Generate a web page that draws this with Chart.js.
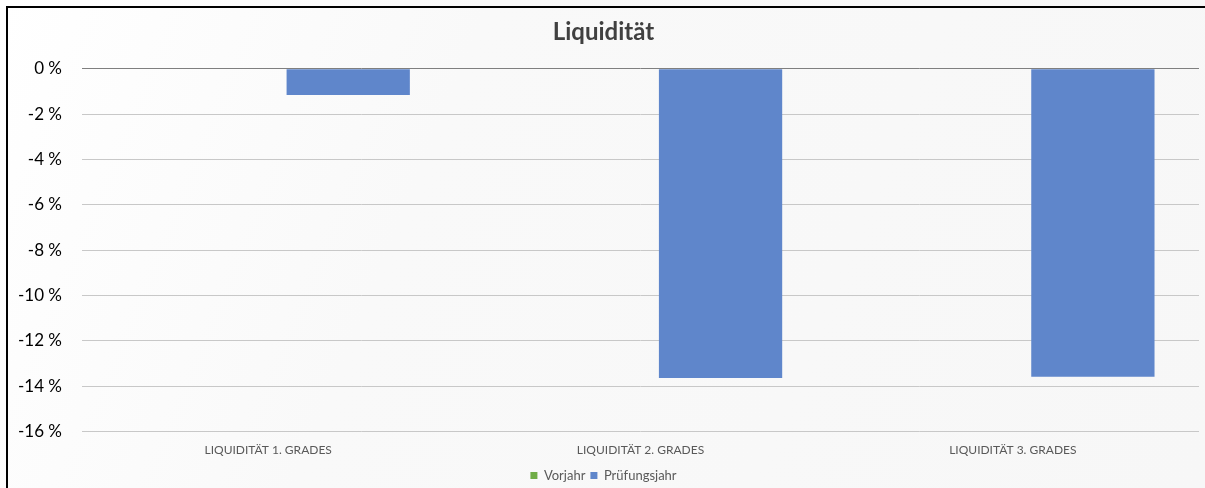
<!DOCTYPE html>
<html>
<head>
<meta charset="utf-8">
<script src="https://cdn.jsdelivr.net/npm/chart.js@4"></script>
<style>
  html, body { margin: 0; padding: 0; background: #ffffff; }
  #wrap { width: 1205px; height: 488px; position: relative; }
</style>
</head>
<body>
<div id="wrap"><canvas id="liqChart"></canvas></div>
<script>
// chart data
const categories = ['LIQUIDITÄT 1. GRADES', 'LIQUIDITÄT 2. GRADES', 'LIQUIDITÄT 3. GRADES'];
const vorjahr = [0, 0, 0];
const pruefungsjahr = [-1.15, -13.64, -13.58];
const yTicks = [0, -2, -4, -6, -8, -10, -12, -14, -16];

const FONT = 'Lato, "Open Sans", sans-serif';

// background + frame like the exported Excel chart
const frame = {
    id: 'frame',
    afterLayout(chart) {
        // push the legend a bit lower, closer to the bottom edge
        if (chart.legend) {
            chart.legend.top += 4;
            chart.legend.bottom += 4;
        }
    },
    beforeDraw(chart) {
        const ctx = chart.ctx;
        const w = chart.width, h = chart.height;
        ctx.save();
        const g = ctx.createLinearGradient(0, 0, w, h);
        g.addColorStop(0, '#ffffff');
        g.addColorStop(0.35, '#f9f9f9');
        g.addColorStop(1, '#f7f7f7');
        ctx.fillStyle = g;
        ctx.fillRect(0, 0, w, h);
        ctx.strokeStyle = '#000000';
        ctx.lineWidth = 2;
        ctx.beginPath();
        ctx.moveTo(7, h);
        ctx.lineTo(7, 7);
        ctx.lineTo(w, 7);
        ctx.stroke();
        ctx.restore();
    }
};

new Chart(document.getElementById('liqChart'), {
    type: 'bar',
    data: {
        labels: categories,
        datasets: [
            { label: 'Vorjahr', data: vorjahr, backgroundColor: '#70ad47', borderWidth: 0 },
            { label: 'Prüfungsjahr', data: pruefungsjahr, backgroundColor: '#5f86cb', borderWidth: 0 }
        ]
    },
    options: {
        responsive: true,
        maintainAspectRatio: false,
        animation: false,
        categoryPercentage: 0.86,
        barPercentage: 0.77,
        layout: { padding: { left: 8, right: 6, top: 0, bottom: 0 } },
        plugins: {
            title: {
                display: true,
                text: 'Liquidität',
                color: '#404040',
                font: { family: FONT, size: 24, weight: 'bold' },
                padding: { top: 18, bottom: 22 }
            },
            legend: {
                position: 'bottom',
                labels: {
                    boxWidth: 7,
                    boxHeight: 7,
                    color: '#595959',
                    font: { family: FONT, size: 13 },
                    padding: 5
                }
            },
            tooltip: { enabled: false }
        },
        scales: {
            x: {
                grid: { display: false },
                border: { display: false },
                ticks: {
                    color: '#595959',
                    font: { family: FONT, size: 12 },
                    padding: 3,
                    maxRotation: 0
                }
            },
            y: {
                min: -16,
                max: 0,
                afterFit(scale) { scale.width = 74; },
                afterBuildTicks(scale) { scale.ticks = yTicks.map(v => ({ value: v })); },
                border: { display: false },
                grid: {
                    drawTicks: false,
                    color: ctx => ctx.tick && ctx.tick.value === 0 ? '#7f7f7f' : '#c8c8c8',
                    lineWidth: 1
                },
                ticks: {
                    color: '#000000',
                    font: { family: FONT, size: 17 },
                    padding: 20,
                    callback: v => v + ' %'
                }
            }
        }
    },
    plugins: [frame]
});
</script>
</body>
</html>
